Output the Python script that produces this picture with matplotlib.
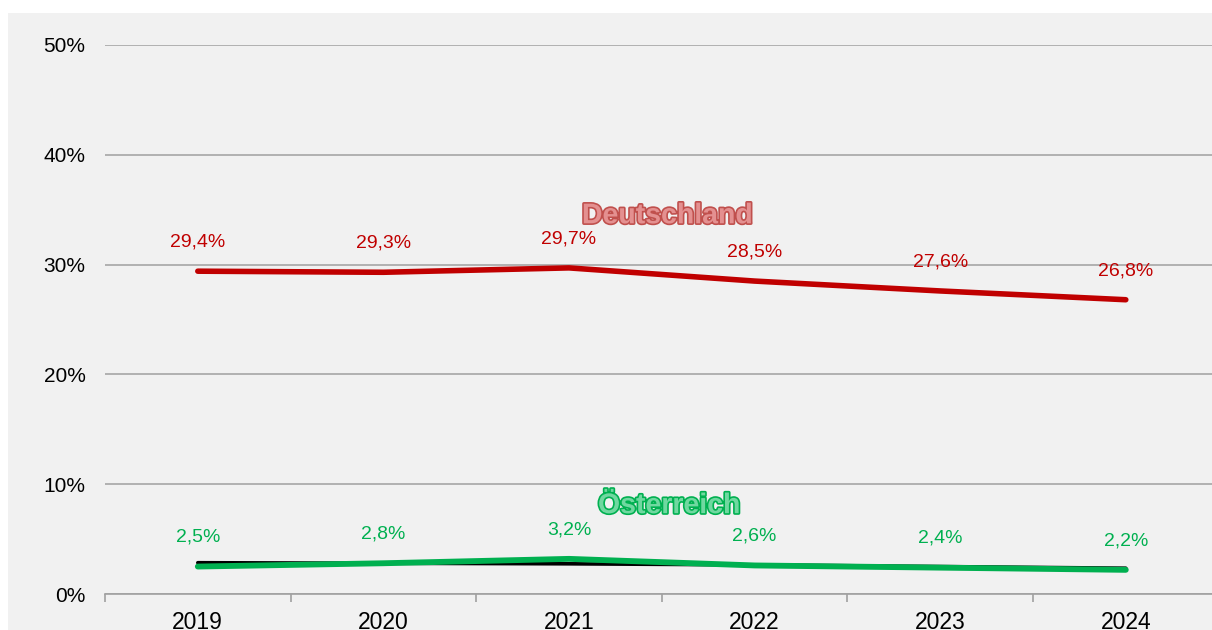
import matplotlib.pyplot as plt
import matplotlib.patheffects as pe
from matplotlib.patches import Rectangle

plt.rcParams['font.family'] = ['Liberation Sans', 'DejaVu Sans']

years = ['2019', '2020', '2021', '2022', '2023', '2024']
deutschland = [29.4, 29.3, 29.7, 28.5, 27.6, 26.8]
oesterreich = [2.5, 2.8, 3.2, 2.6, 2.4, 2.2]
# black reference line under the green one
oesterreich_ref = [2.85, 2.8, 2.75, 2.65, 2.5, 2.35]
y_ticks = [0, 10, 20, 30, 40, 50]

red = '#c00000'
green = '#00b050'
bg = '#f1f1f1'

fig = plt.figure(figsize=(12.12, 6.3), dpi=100)
fig.patch.set_facecolor('white')
fig.add_artist(Rectangle((8 / 1212, 0), 1.1, 617 / 630, transform=fig.transFigure,
                         facecolor=bg, edgecolor='none', zorder=-5))

ax = fig.add_axes([105 / 1212, 36 / 630, 1113.6 / 1212, 549 / 630])
ax.set_facecolor(bg)

x = list(range(len(years)))
ax.plot(x, deutschland, color=red, lw=4.0, solid_capstyle='round', zorder=3)
ax.plot(x, oesterreich_ref, color='black', lw=2.6, solid_capstyle='round', zorder=3)
ax.plot(x, oesterreich, color=green, lw=4.2, solid_capstyle='round', zorder=4)

for xi, v in zip(x, deutschland):
    ax.annotate(f'{v:.1f}%'.replace('.', ','), (xi, v), xytext=(0, 21),
                textcoords='offset points', ha='center', va='center',
                color=red, fontsize=14)
for xi, v in zip(x, oesterreich):
    ax.annotate(f'{v:.1f}%'.replace('.', ','), (xi, v), xytext=(0, 21),
                textcoords='offset points', ha='center', va='center',
                color=green, fontsize=14)

ax.text(2.53, 34.4, 'Deutschland', ha='center', va='center', fontsize=20.5,
        fontweight='bold', color='#e49090',
        path_effects=[pe.withStroke(linewidth=2.4, foreground='#c0504d')])
ax.text(2.54, 8.0, 'Österreich', ha='center', va='center', fontsize=20.5,
        fontweight='bold', color='#70d8a0',
        path_effects=[pe.withStroke(linewidth=2.4, foreground=green)])

ax.set_xlim(-0.5, 5.5)
ax.set_ylim(0, 50)
ax.set_yticks(y_ticks)
ax.set_yticklabels([f'{t}%' for t in y_ticks], fontsize=15)
ax.set_xticks(x)
ax.set_xticklabels(years, fontsize=16.5)
ax.set_xticks([i - 0.5 for i in range(len(years) + 1)], minor=True)
ax.tick_params(axis='x', which='major', length=0, pad=12)
ax.tick_params(axis='x', which='minor', length=6, color='#a0a0a0', width=1.2)
ax.tick_params(axis='y', length=0, pad=14)

ax.grid(axis='y', color='#a0a0a0', lw=1.1)
ax.set_axisbelow(True)
for s in ['top', 'right', 'left']:
    ax.spines[s].set_visible(False)
ax.spines['bottom'].set_color('#a0a0a0')
ax.spines['bottom'].set_linewidth(1.2)

fig.savefig('out.png', dpi=100)
